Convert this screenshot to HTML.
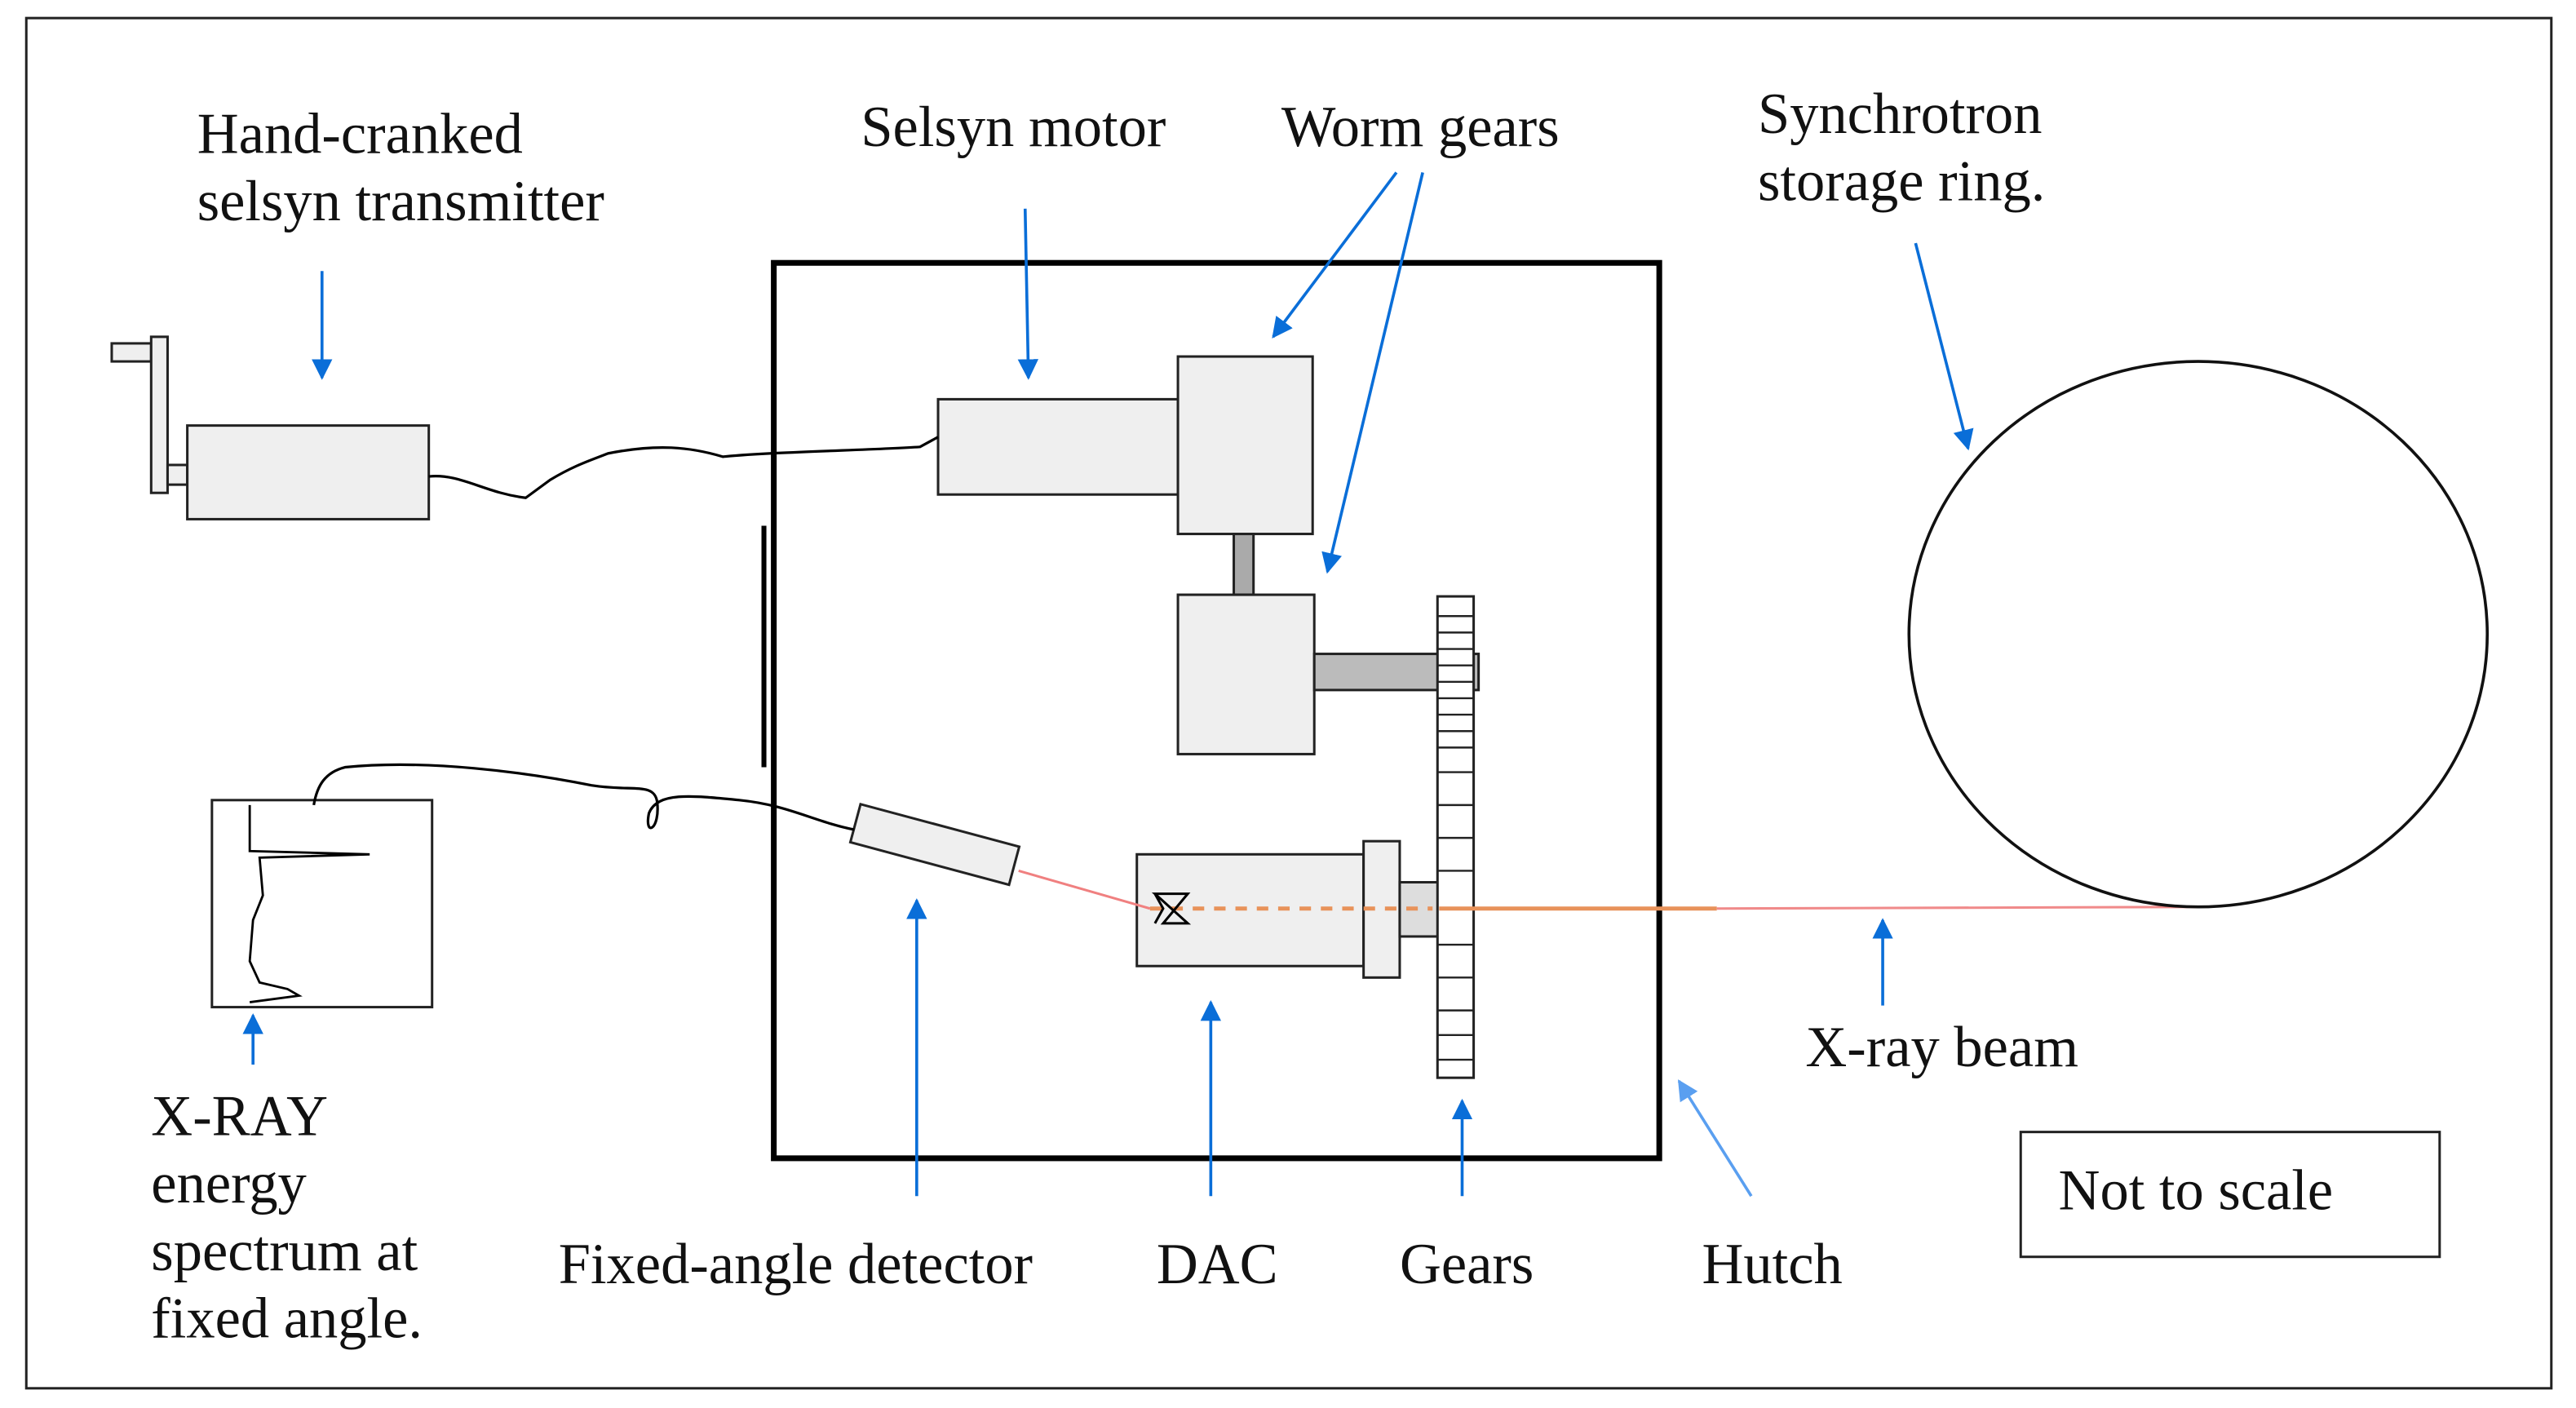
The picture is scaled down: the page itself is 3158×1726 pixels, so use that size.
<!DOCTYPE html>
<html><head><style>html,body{margin:0;padding:0;background:#fff}svg{display:block}</style></head>
<body>
<svg width="3158" height="1726" viewBox="0 0 1568 857" xmlns="http://www.w3.org/2000/svg">
<defs>
<marker id="ah" viewBox="0 0 10 10" refX="9" refY="5" markerWidth="7" markerHeight="7" orient="auto"><path d="M0,0 L10,5 L0,10 z" fill="#0a6ed8"/></marker>
<marker id="ah2" viewBox="0 0 10 10" refX="9" refY="5" markerWidth="7" markerHeight="7" orient="auto"><path d="M0,0 L10,5 L0,10 z" fill="#5a9ff0"/></marker>
</defs>
<rect x="16" y="11" width="1537" height="834" fill="none" stroke="#222" stroke-width="1.5"/>
<rect x="471" y="160" width="539" height="545" fill="none" stroke="#000" stroke-width="3.5"/>
<line x1="465" y1="320" x2="465" y2="467" stroke="#000" stroke-width="3"/>
<g fill="#efefef" stroke="#222" stroke-width="1.5">
<rect x="68" y="209" width="24" height="11"/>
<rect x="92" y="205" width="10" height="95"/>
<rect x="102" y="283" width="12" height="12"/>
<rect x="114" y="259" width="147" height="57"/>
<rect x="571" y="243" width="146" height="58"/>
<rect x="717" y="217" width="82" height="108"/>
<rect x="751" y="325" width="12" height="37" fill="#aaa"/>
<rect x="717" y="362" width="83" height="97"/>
<rect x="800" y="398" width="100" height="22" fill="#bbb"/>
<rect x="692" y="520" width="138" height="68"/>
<rect x="830" y="512" width="22" height="83"/>
<rect x="852" y="537" width="24" height="33" fill="#ddd"/>
<rect x="875" y="363" width="22" height="293" fill="#fff"/>
<rect x="129" y="487" width="134" height="126" fill="#fff"/>
<rect x="1230" y="689" width="255" height="76" fill="#fff"/>
<rect x="519" y="502" width="100" height="24" transform="rotate(15 569 514)"/>
</g>
<g stroke="#222" stroke-width="1.2">
<path d="M875 375h22M875 385h22M875 395h22M875 405h22M875 415h22M875 425h22M875 435h22M875 445h22M875 455h22M875 470h22M875 490h22M875 510h22M875 530h22M875 575h22M875 595h22M875 615h22M875 630h22M875 645h22"/>
</g>
<path d="M261 290 C280 288 295 300 320 303 L335 292 C350 283 360 280 370 276 C400 270 420 272 440 278 C470 275 530 274 560 272 L571 266" fill="none" stroke="#000" stroke-width="1.6"/>
<path d="M191 490 C193 478 198 470 210 467 C260 462 320 470 360 478 C385 482 398 476 400 488 C402 505 392 510 395 495 C400 482 420 484 450 487 C480 490 495 500 520 505" fill="none" stroke="#000" stroke-width="1.6"/>
<path d="M152 490 L152 518 L225 520 L158 522 L160 545 L154 560 L152 585 L158 598 L175 602 L182 606 L152 610" fill="none" stroke="#000" stroke-width="1.4"/>
<line x1="620" y1="530" x2="700" y2="553" stroke="#f08080" stroke-width="1.5"/>
<line x1="700" y1="553" x2="872" y2="553" stroke="#e8925a" stroke-width="2.5" stroke-dasharray="7,6"/>
<line x1="876" y1="553" x2="1045" y2="553" stroke="#e8925a" stroke-width="2.5"/>
<line x1="1045" y1="553" x2="1340" y2="552" stroke="#f08a8a" stroke-width="1.5"/>
<path d="M703 544 L723 544 L708 562 L723 562 Z M703 544 L708 553 L703 562" fill="none" stroke="#000" stroke-width="1.5"/>
<ellipse cx="1338" cy="386" rx="176" ry="166" fill="none" stroke="#111" stroke-width="1.8"/>
<g stroke="#0a6ed8" stroke-width="1.8" marker-end="url(#ah)">
<line x1="196" y1="165" x2="196" y2="230"/>
<line x1="624" y1="127" x2="626" y2="230"/>
<line x1="850" y1="105" x2="775" y2="205"/>
<line x1="866" y1="105" x2="808" y2="348"/>
<line x1="1166" y1="148" x2="1198" y2="273"/>
<line x1="154" y1="648" x2="154" y2="618"/>
<line x1="558" y1="728" x2="558" y2="548"/>
<line x1="737" y1="728" x2="737" y2="610"/>
<line x1="890" y1="728" x2="890" y2="670"/>
<line x1="1146" y1="612" x2="1146" y2="560"/>
</g>
<line x1="1066" y1="728" x2="1022" y2="658" stroke="#5a9ff0" stroke-width="1.8" marker-end="url(#ah2)"/>
<g font-family="'Liberation Serif',serif" font-size="35" fill="#111">
<text x="120" y="93">Hand-cranked</text>
<text x="120" y="134">selsyn transmitter</text>
<text x="524" y="89">Selsyn motor</text>
<text x="780" y="89">Worm gears</text>
<text x="1070" y="81">Synchrotron</text>
<text x="1070" y="122">storage ring.</text>
<text x="92" y="691">X-RAY</text>
<text x="92" y="732">energy</text>
<text x="92" y="773">spectrum at</text>
<text x="92" y="814">fixed angle.</text>
<text x="340" y="781">Fixed-angle detector</text>
<text x="704" y="781">DAC</text>
<text x="852" y="781">Gears</text>
<text x="1036" y="781">Hutch</text>
<text x="1099" y="649">X-ray beam</text>
<text x="1253" y="736">Not to scale</text>
</g>
</svg>
</body></html>
